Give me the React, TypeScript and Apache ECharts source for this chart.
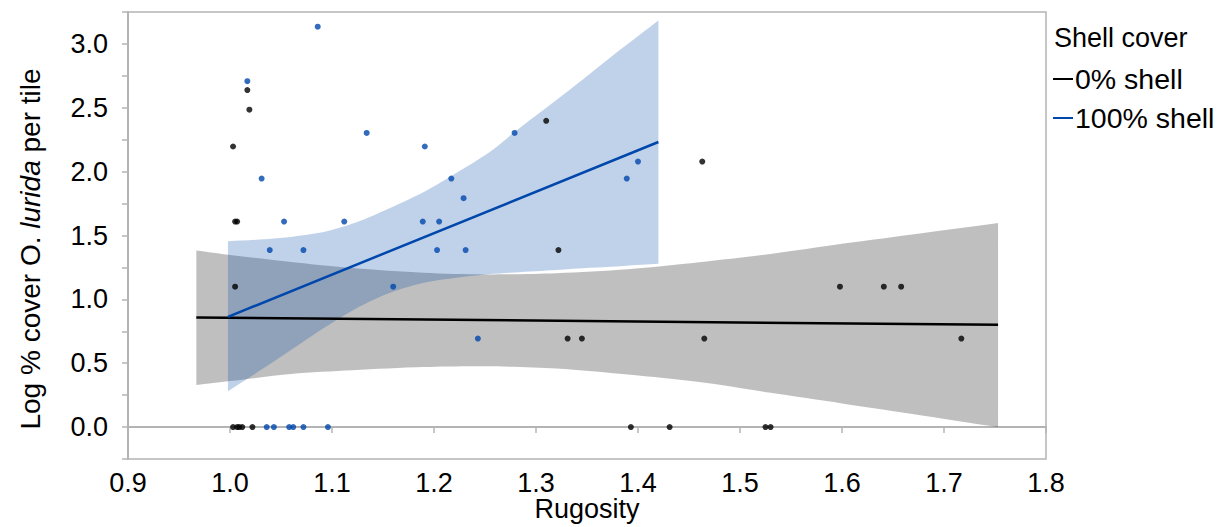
import React, { useEffect, useRef } from "react";
import * as echarts from "echarts";

// ---- Data ----
const xTickValues = [0.9, 1.0, 1.1, 1.2, 1.3, 1.4, 1.5, 1.6, 1.7, 1.8];
const yTickLabels = ["0.0", "0.5", "1.0", "1.5", "2.0", "2.5", "3.0"];

// 0% shell observations [rugosity, log cover]
const shell0Points: [number, number][] = [
  [1.003, 2.197], [1.017, 2.639], [1.019, 2.485], [1.005, 1.609], [1.007, 1.609],
  [1.005, 1.099], [1.003, 0], [1.007, 0], [1.009, 0], [1.012, 0], [1.022, 0],
  [1.31, 2.398], [1.322, 1.386], [1.331, 0.693], [1.345, 0.693], [1.393, 0],
  [1.431, 0], [1.463, 2.079], [1.465, 0.693], [1.525, 0], [1.53, 0],
  [1.598, 1.099], [1.641, 1.099], [1.658, 1.099], [1.717, 0.693],
];

// 100% shell observations
const shell100Points: [number, number][] = [
  [1.086, 3.135], [1.017, 2.708], [1.134, 2.303], [1.031, 1.946], [1.053, 1.609],
  [1.112, 1.609], [1.039, 1.386], [1.072, 1.386], [1.16, 1.099], [1.036, 0],
  [1.043, 0], [1.058, 0], [1.062, 0], [1.072, 0], [1.096, 0], [1.191, 2.197],
  [1.217, 1.946], [1.229, 1.792], [1.189, 1.609], [1.205, 1.609], [1.203, 1.386],
  [1.231, 1.386], [1.279, 2.303], [1.389, 1.946], [1.4, 2.079], [1.243, 0.693],
];

// fitted lines
const shell0Fit: [number, number][] = [[0.967, 0.858], [1.753, 0.801]];
const shell100Fit: [number, number][] = [[0.998, 0.863], [1.42, 2.232]];

// confidence bands
const shell0BandX = [0.967, 1.0, 1.06, 1.12, 1.19, 1.25, 1.32, 1.39, 1.46, 1.53, 1.6, 1.68, 1.753];
const shell0BandLower = [0.33, 0.36, 0.416, 0.445, 0.47, 0.476, 0.458, 0.411, 0.352, 0.268, 0.185, 0.089, 0.0];
const shell0BandUpper = [1.383, 1.348, 1.293, 1.245, 1.208, 1.195, 1.205, 1.235, 1.29, 1.355, 1.435, 1.52, 1.598];

const shell100BandX = [0.998, 1.043, 1.092, 1.124, 1.157, 1.19, 1.217, 1.255, 1.279, 1.32, 1.353, 1.386, 1.42];
const shell100BandLower = [0.281, 0.513, 0.775, 0.931, 1.052, 1.13, 1.164, 1.198, 1.211, 1.23, 1.247, 1.262, 1.278];
const shell100BandUpper = [1.455, 1.476, 1.528, 1.603, 1.715, 1.84, 1.965, 2.155, 2.31, 2.56, 2.767, 2.975, 3.183];

const legendTitle = "Shell cover";
const legendLabels = ["0% shell", "100% shell"];
const xAxisTitle = "Rugosity";

const FONT = "'Liberation Sans', Arial, Helvetica, sans-serif";
const BLUE = "#0047ab";
const AXIS_GRAY = "#b4b4b4";

export default function App() {
  const ref = useRef<HTMLDivElement>(null);

  useEffect(() => {
    if (!ref.current) return;
    const chart = echarts.init(ref.current, undefined, { renderer: "svg" });

    const bandSeries = (
      name: string,
      xs: number[],
      lower: number[],
      upper: number[],
      fill: string
    ) => ({
      name,
      type: "custom",
      silent: true,
      clip: true,
      data: [[xs[0], upper[0]]],
      renderItem: (params: any, api: any) => {
        if (params.dataIndex !== 0) return null;
        const top = xs.map((x, i) => api.coord([x, upper[i]]));
        const bottom = xs.map((x, i) => api.coord([x, lower[i]])).reverse();
        // corners are doubled so that the smoothing keeps them sharp
        const pts = [
          top[0], ...top, top[top.length - 1],
          bottom[0], ...bottom, bottom[bottom.length - 1],
        ];
        let minX = Infinity, minY = Infinity, maxX = -Infinity, maxY = -Infinity;
        pts.forEach((p: number[]) => {
          minX = Math.min(minX, p[0]); maxX = Math.max(maxX, p[0]);
          minY = Math.min(minY, p[1]); maxY = Math.max(maxY, p[1]);
        });
        return {
          type: "polygon",
          shape: {
            points: pts,
            smooth: 0.3,
            smoothConstraint: [[minX, minY], [maxX, maxY]],
          },
          style: { fill, stroke: "none" },
          silent: true,
        };
      },
    });

    const option: any = {
      animation: false,
      backgroundColor: "#ffffff",
      grid: {
        left: 128,
        right: 175,
        top: 12,
        bottom: 68,
        show: true,
        borderColor: AXIS_GRAY,
        borderWidth: 1.5,
        containLabel: false,
        outerBoundsMode: "none",
      },
      xAxis: {
        type: "value",
        min: xTickValues[0],
        max: xTickValues[xTickValues.length - 1],
        interval: 0.1,
        axisLine: { show: true, lineStyle: { color: AXIS_GRAY, width: 2 } },
        axisTick: { show: true, length: 6, lineStyle: { color: AXIS_GRAY, width: 1.5 } },
        axisLabel: {
          fontSize: 27,
          fontFamily: FONT,
          color: "#000",
          margin: 10,
          formatter: (v: number) => v.toFixed(1),
        },
        splitLine: { show: false },
      },
      yAxis: {
        type: "value",
        min: -0.25,
        max: 3.25,
        interval: 0.25,
        axisLine: { show: true, lineStyle: { color: AXIS_GRAY, width: 2 } },
        axisTick: { show: true, length: 6, lineStyle: { color: AXIS_GRAY, width: 1.5 } },
        axisLabel: {
          fontSize: 27,
          fontFamily: FONT,
          color: "#000",
          margin: 20,
          formatter: (v: number) => {
            const s = v.toFixed(1);
            return Math.abs(v * 2 - Math.round(v * 2)) < 1e-6 && yTickLabels.includes(s) ? s : "";
          },
        },
        splitLine: { show: false },
      },
      graphic: [
        {
          type: "text",
          x: 587,
          y: 509,
          style: {
            text: xAxisTitle,
            fontSize: 27,
            fontFamily: FONT,
            fill: "#000",
            align: "center",
            verticalAlign: "middle",
          },
        },
        {
          type: "text",
          x: 30,
          y: 249,
          rotation: Math.PI / 2,
          style: {
            text: "Log % cover O. {i|lurida} per tile",
            fontSize: 28,
            fontFamily: FONT,
            fill: "#000",
            align: "center",
            verticalAlign: "middle",
            rich: {
              i: { fontSize: 28, fontFamily: FONT, fontStyle: "italic", fill: "#000" },
            },
          },
        },
        {
          type: "text",
          x: 1054,
          y: 38,
          style: { text: legendTitle, fontSize: 27, fontFamily: FONT, fill: "#000", verticalAlign: "middle" },
        },
        {
          type: "line",
          shape: { x1: 1053, y1: 79, x2: 1073, y2: 79 },
          style: { stroke: "#000", lineWidth: 2 },
        },
        {
          type: "text",
          x: 1075,
          y: 79,
          style: { text: legendLabels[0], fontSize: 28.5, fontFamily: FONT, fill: "#000", verticalAlign: "middle" },
        },
        {
          type: "line",
          shape: { x1: 1053, y1: 118, x2: 1073, y2: 118 },
          style: { stroke: BLUE, lineWidth: 2 },
        },
        {
          type: "text",
          x: 1075,
          y: 118,
          style: { text: legendLabels[1], fontSize: 28.5, fontFamily: FONT, fill: "#000", verticalAlign: "middle" },
        },
      ],
      series: [
        bandSeries("shell0 band", shell0BandX, shell0BandLower, shell0BandUpper, "rgba(0,0,0,0.25)"),
        bandSeries("shell100 band", shell100BandX, shell100BandLower, shell100BandUpper, "rgba(3,75,171,0.25)"),
        {
          name: legendLabels[0] + " fit",
          type: "line",
          data: shell0Fit,
          symbol: "none",
          lineStyle: { color: "#000", width: 2.5 },
          silent: true,
        },
        {
          name: legendLabels[1] + " fit",
          type: "line",
          data: shell100Fit,
          symbol: "none",
          lineStyle: { color: BLUE, width: 2.5 },
          silent: true,
        },
        {
          name: legendLabels[0],
          type: "scatter",
          data: shell0Points,
          symbol: "circle",
          symbolSize: 6,
          itemStyle: { color: "#000" },
        },
        {
          name: legendLabels[1],
          type: "scatter",
          data: shell100Points,
          symbol: "circle",
          symbolSize: 6,
          itemStyle: { color: BLUE },
        },
      ],
    };

    chart.setOption(option);
    return () => chart.dispose();
  }, []);

  return (
    <div
      ref={ref}
      style={{ position: "absolute", left: 0, top: 0, width: 1221, height: 527 }}
    />
  );
}
